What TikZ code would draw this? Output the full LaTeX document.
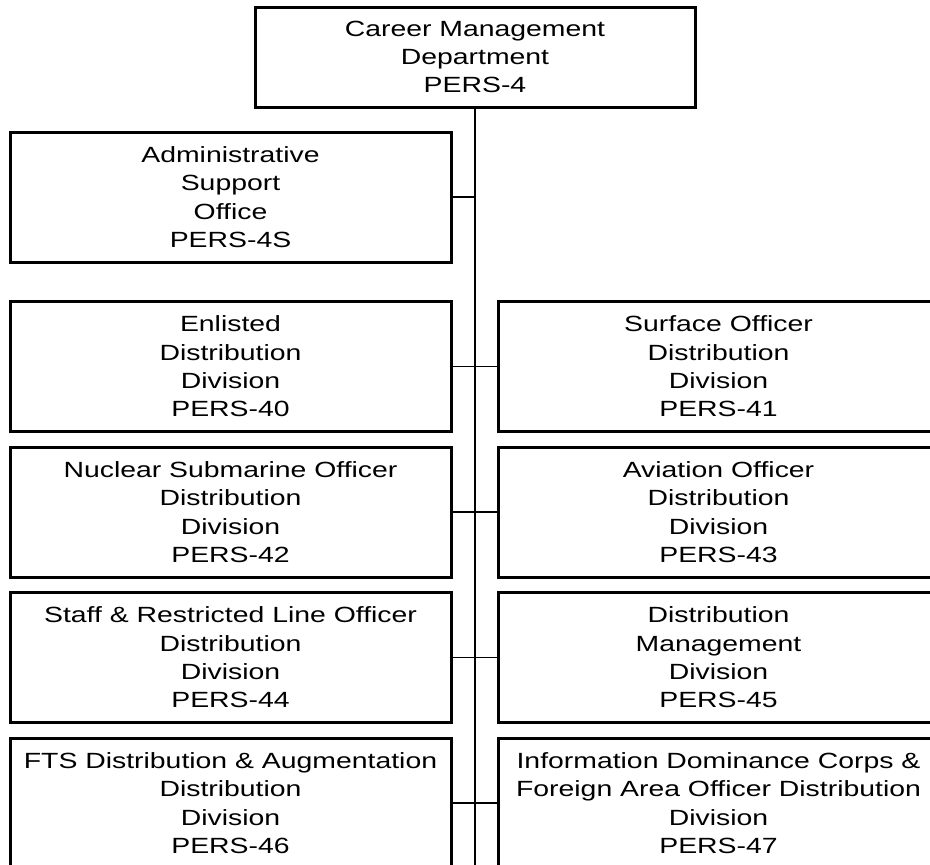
\documentclass[tikz,border=0pt]{standalone}
\usepackage{fontspec}
\setmainfont{Liberation Sans}[FakeStretch=1.29]
\usetikzlibrary{positioning}

\begin{document}
\begin{tikzpicture}[x=1pt,y=-1pt,
   unit/.style={draw,line width=3pt,outer sep=0pt,inner sep=0pt,align=center,
      minimum width=441pt,minimum height=130pt,
      font=\fontsize{22}{28.3}\selectfont},
   link/.style={line width=1.5pt}]
\clip (0,0) rectangle (930,865);
% department head
\node[unit,minimum width=440pt,minimum height=100pt] (pers4) at (475,57) {Career Management\\Department\\PERS-4};
\node[unit] (pers4s) at (230.5,197) {Administrative\\Support\\Office\\PERS-4S};
% divisions, left column
\node[unit] (pers40) at (230.5,366.5) {Enlisted\\Distribution\\Division\\PERS-40};
\node[unit,below=15.5pt of pers40] (pers42) {Nuclear Submarine Officer\\Distribution\\Division\\PERS-42};
\node[unit,below=15.5pt of pers42] (pers44) {Staff \& Restricted Line Officer\\Distribution\\Division\\PERS-44};
\node[unit,below=15.5pt of pers44] (pers46) {FTS Distribution \& Augmentation\\Distribution\\Division\\PERS-46};
% divisions, right column
\node[unit,right=47pt of pers40] (pers41) {Surface Officer\\Distribution\\Division\\PERS-41};
\node[unit,right=47pt of pers42] (pers43) {Aviation Officer\\Distribution\\Division\\PERS-43};
\node[unit,right=47pt of pers44] (pers45) {Distribution\\Management\\Division\\PERS-45};
\node[unit,right=47pt of pers46] (pers47) {Information Dominance Corps \&\\Foreign Area Officer Distribution\\Division\\PERS-47};
% spine and branches
\coordinate (spineend) at (475,865);
\draw[line width=2pt] (pers4.south) -- (spineend);
\draw[link] (pers4s.east) -- (pers4s.east -| pers4.south);
\foreach \l/\r in {pers40/pers41,pers42/pers43,pers44/pers45,pers46/pers47}
   \draw[link] (\l.east) -- (\r.west);
\end{tikzpicture}
\end{document}
